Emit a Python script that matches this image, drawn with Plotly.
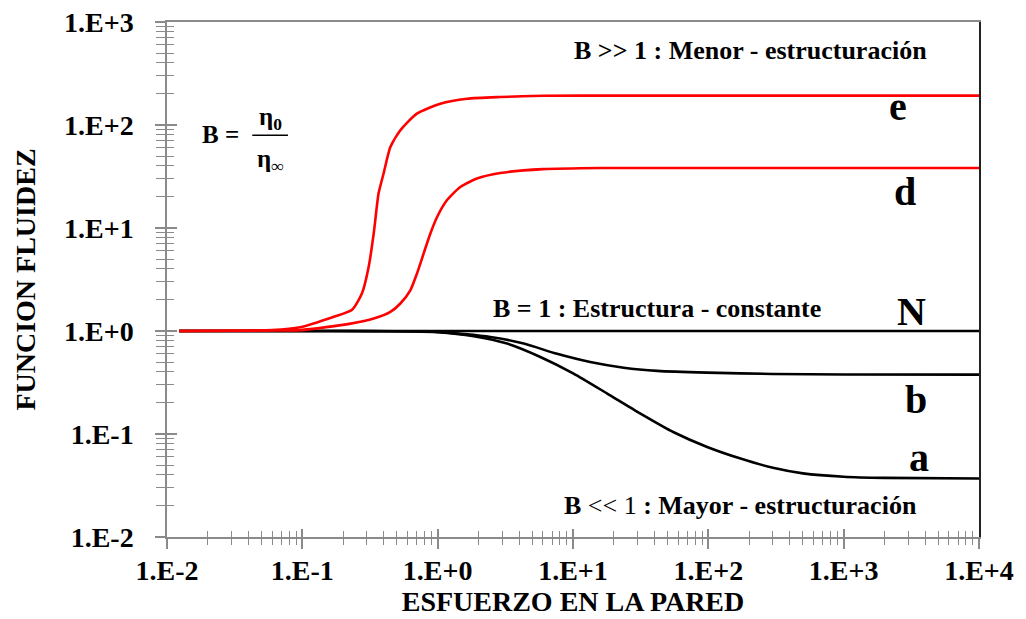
import plotly.graph_objects as go

# Wall shear stress values (x) and fluidity function (y) for each curve
a_x = [0.0123, 0.1, 0.3, 0.6, 1.0, 1.85, 3.26, 5.74, 10.1, 17.9, 31.5, 55.5, 98, 173, 300, 500, 1000, 2000, 10000]
a_y = [1.0, 1.0, 0.998, 0.99, 0.975, 0.89, 0.755, 0.56, 0.386, 0.247, 0.158, 0.104, 0.0748, 0.0577, 0.047, 0.0415, 0.0385, 0.0375, 0.037]

b_x = [0.0123, 0.1, 0.5, 1.0, 2.45, 4.33, 7.62, 13.4, 23.7, 41.9, 98, 300, 1000, 10000]
b_y = [1.0, 1.0, 0.995, 0.98, 0.875, 0.755, 0.60, 0.50, 0.44, 0.41, 0.394, 0.383, 0.378, 0.377]

n_x = [0.0123, 10000]
n_y = [1.0, 1.0]

d_x = [0.0123, 0.05, 0.097, 0.227, 0.337, 0.447, 0.53, 0.628, 0.703, 0.787, 0.882, 0.99, 1.17, 1.47, 1.95, 2.9, 6, 16, 10000]
d_y = [1.0, 1.01, 1.02, 1.18, 1.32, 1.53, 1.85, 2.48, 3.61, 5.64, 8.8, 12.8, 18.6, 25, 30.2, 34.2, 37.3, 38.3, 38.3]

e_x = [0.0123, 0.03, 0.06, 0.0966, 0.169, 0.233, 0.276, 0.309, 0.337, 0.366, 0.399, 0.447, 0.53, 0.702, 1.046, 1.65, 2.9, 6, 20, 10000]
e_y = [1.0, 1.005, 1.02, 1.09, 1.37, 1.61, 2.32, 4.18, 8.9, 21.7, 34, 61, 89, 129, 161, 180, 187, 192, 193, 193]

# Axis ticks
x_tickvals = [1e-2, 1e-1, 1e0, 1e1, 1e2, 1e3, 1e4]
x_ticktext = ["1.E-2", "1.E-1", "1.E+0", "1.E+1", "1.E+2", "1.E+3", "1.E+4"]
y_tickvals = [1e-2, 1e-1, 1e0, 1e1, 1e2, 1e3]
y_ticktext = ["1.E-2", "1.E-1", "1.E+0", "1.E+1", "1.E+2", "1.E+3"]
x_minor = [m * 10.0 ** k for k in range(-2, 4) for m in range(2, 10)]
y_minor = [m * 10.0 ** k for k in range(-2, 3) for m in range(2, 10)]

SERIF = "Liberation Serif, Times New Roman, DejaVu Serif, serif"
AXIS_GREY = "#8a8a8a"

fig = go.Figure()

for xs, ys in [(n_x, n_y), (b_x, b_y), (a_x, a_y)]:
    fig.add_trace(go.Scatter(x=xs, y=ys, mode="lines",
                             line=dict(color="black", width=2.6, shape="spline", smoothing=0.6),
                             hoverinfo="skip", showlegend=False))
for xs, ys in [(d_x, d_y), (e_x, e_y)]:
    fig.add_trace(go.Scatter(x=xs, y=ys, mode="lines",
                             line=dict(color="#ff0000", width=2.6, shape="spline", smoothing=0.6),
                             hoverinfo="skip", showlegend=False))

# Empty traces that attach the overlay axes (frame lines and inner tick halves)
fig.add_trace(go.Scatter(x=[], y=[], xaxis="x2", yaxis="y2", showlegend=False, hoverinfo="skip"))
fig.add_trace(go.Scatter(x=[], y=[], xaxis="x3", yaxis="y3", showlegend=False, hoverinfo="skip"))

tick_font = dict(family=SERIF, size=28, color="black", weight="bold")
title_font = dict(family=SERIF, size=28, color="black", weight="bold")

fig.update_layout(
    width=1026, height=619,
    margin=dict(l=167, r=47, t=22, b=82),
    paper_bgcolor="white", plot_bgcolor="white",
    xaxis=dict(
        type="log", range=[-2, 4], showgrid=False, zeroline=False, automargin=False,
        showline=True, linecolor=AXIS_GREY, linewidth=1.5,
        tickmode="array", tickvals=x_tickvals, ticktext=x_ticktext,
        ticks="outside", ticklen=10, tickwidth=1.5, tickcolor=AXIS_GREY,
        minor=dict(ticks="outside", ticklen=6, tickwidth=1.2, tickcolor=AXIS_GREY,
                   tickmode="array", tickvals=x_minor, showgrid=False),
        tickfont=tick_font, ticklabelstandoff=-2,
        title=dict(text="ESFUERZO EN LA PARED", font=title_font, standoff=0),
    ),
    yaxis=dict(
        type="log", range=[-2, 3], showgrid=False, zeroline=False, automargin=False,
        showline=True, linecolor=AXIS_GREY, linewidth=1.5,
        tickmode="array", tickvals=y_tickvals, ticktext=y_ticktext,
        ticks="outside", ticklen=10, tickwidth=1.5, tickcolor=AXIS_GREY,
        minor=dict(ticks="outside", ticklen=9, tickwidth=1.2, tickcolor=AXIS_GREY,
                   tickmode="array", tickvals=y_minor, showgrid=False),
        tickfont=tick_font, ticklabelstandoff=16,
        title=dict(text="FUNCION FLUIDEZ", font=title_font, standoff=20),
    ),
    xaxis2=dict(type="log", range=[-2, 4], overlaying="x", side="top", anchor="y",
                automargin=False,
                showline=True, linecolor=AXIS_GREY, linewidth=1.5, ticks="",
                showticklabels=False, showgrid=False, zeroline=False),
    yaxis2=dict(type="log", range=[-2, 3], overlaying="y", side="right", anchor="x",
                automargin=False,
                showline=True, linecolor="#222222", linewidth=1.5, ticks="",
                showticklabels=False, showgrid=False, zeroline=False),
    xaxis3=dict(type="log", range=[-2, 4], overlaying="x", side="bottom", anchor="y",
                automargin=False,
                showline=False, showticklabels=False, showgrid=False, zeroline=False,
                tickmode="array", tickvals=x_tickvals,
                ticks="inside", ticklen=8, tickwidth=1.5, tickcolor=AXIS_GREY,
                minor=dict(ticks="inside", ticklen=6, tickwidth=1.2, tickcolor=AXIS_GREY,
                           tickmode="array", tickvals=x_minor, showgrid=False)),
    yaxis3=dict(type="log", range=[-2, 3], overlaying="y", side="left", anchor="x",
                automargin=False,
                showline=False, showticklabels=False, showgrid=False, zeroline=False,
                tickmode="array", tickvals=y_tickvals,
                ticks="inside", ticklen=10, tickwidth=1.5, tickcolor=AXIS_GREY,
                minor=dict(ticks="inside", ticklen=7, tickwidth=1.2, tickcolor=AXIS_GREY,
                           tickmode="array", tickvals=y_minor, showgrid=False)),
)

note_font = dict(family=SERIF, size=26, color="black")
letter_font = dict(family=SERIF, size=40, color="black", weight="bold")

# Regime notes (annotation x/y on log axes are given as log10 values)
notes = [
    ("<b>B &gt;&gt; 1 : Menor - estructuración</b>", 2.311, 2.725),
    ("<b>B = 1 : Estructura - constante</b>", 1.624, 0.220),
    ("<b>B</b> &lt;&lt; 1<b> : Mayor - estructuración</b>", 2.238, -1.692),
]
for text, lx, ly in notes:
    fig.add_annotation(x=lx, y=ly, xref="x", yref="y", text=text, showarrow=False,
                       font=note_font, xanchor="center", yanchor="middle")

# Curve labels
curve_labels = [("e", 3.405, 2.18), ("d", 3.456, 1.356), ("N", 3.50, 0.186),
                ("b", 3.531, -0.663), ("a", 3.553, -1.231)]
for text, lx, ly in curve_labels:
    fig.add_annotation(x=lx, y=ly, xref="x", yref="y", text=text, showarrow=False,
                       font=letter_font, xanchor="center", yanchor="middle")

# Definition B = eta0 / eta_inf
frac_font = dict(family=SERIF, size=25, color="black", weight="bold")
fig.add_annotation(x=-1.606, y=1.91, xref="x", yref="y", text="B =", showarrow=False,
                   font=frac_font, xanchor="center", yanchor="middle")
fig.add_annotation(x=-1.236, y=2.06, xref="x", yref="y", text="η<sub>0</sub>", showarrow=False,
                   font=frac_font, xanchor="center", yanchor="middle")
fig.add_annotation(x=-1.236, y=1.66, xref="x", yref="y", text="η<sub>∞</sub>", showarrow=False,
                   font=frac_font, xanchor="center", yanchor="middle")
fig.add_shape(type="line", xref="paper", yref="paper", x0=0.105, x1=0.149, y0=0.780, y1=0.780,
              line=dict(color="black", width=1.5))

fig.write_html("out.html")
